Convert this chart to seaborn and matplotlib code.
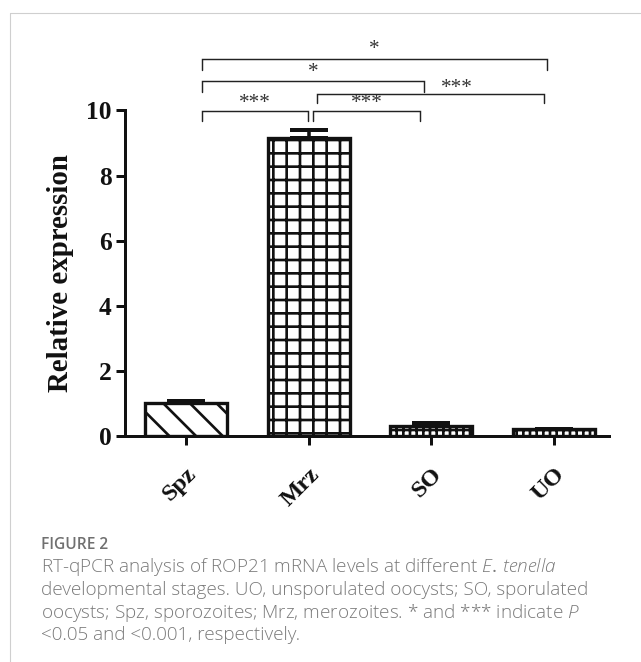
import numpy as np
import pandas as pd
import matplotlib
matplotlib.use("Agg")
import matplotlib.pyplot as plt
from matplotlib.lines import Line2D
from matplotlib.transforms import ScaledTranslation
import seaborn as sns

# ---------------- data ----------------
stages = ["Spz", "Mrz", "SO", "UO"]
expression = [1.0, 9.15, 0.32, 0.20]
sem_upper = [0.08, 0.26, 0.07, 0.02]
yticks = [0, 2, 4, 6, 8, 10]
comparisons = [("Spz", "Mrz", "***"), ("Mrz", "SO", "***"), ("Mrz", "UO", "***"),
               ("Spz", "SO", "*"), ("Spz", "UO", "*")]
ylabel = "Relative expression"
caption_title = "FIGURE 2"
caption_lines = [
    r"RT-qPCR analysis of ROP21 mRNA levels at different $\mathit{E.\,tenella}$",
    "developmental stages. UO, unsporulated oocysts; SO, sporulated",
    r"oocysts; Spz, sporozoites; Mrz, merozoites. * and *** indicate $\mathit{P}$",
    "<0.05 and <0.001, respectively.",
]

# ---------------- style ----------------
sns.set_theme(style="ticks")
plt.rcParams["font.family"] = ["Liberation Serif", "DejaVu Serif"]
plt.rcParams["hatch.linewidth"] = 2.4
plt.rcParams["hatch.color"] = "#111111"
plt.rcParams["mathtext.fontset"] = "custom"
plt.rcParams["mathtext.rm"] = "Open Sans"
plt.rcParams["mathtext.it"] = "Open Sans:italic:light"

DPI = 80
W, H = 641, 662
fig = plt.figure(figsize=(W / DPI, H / DPI), dpi=DPI)
fig.patch.set_facecolor("white")

ax_left, ax_right, ax_bottom, ax_top = 125, 609, 436, 110.5
ax = fig.add_axes([ax_left / W, 1 - ax_bottom / H, (ax_right - ax_left) / W, (ax_bottom - ax_top) / H])
ax.set_facecolor("white")

df = pd.DataFrame({"stage": stages, "expr": expression})
sns.barplot(data=df, x="stage", y="expr", order=stages, color="white", width=0.67,
            edgecolor="#111111", linewidth=3.0, errorbar=None, ax=ax, zorder=2)
hatches = ["\\", "+", "++", "++"]
for patch, h in zip(ax.patches, hatches):
    patch.set_hatch(h)
    patch.set_facecolor("white")

xpos = np.arange(len(stages))
ax.errorbar(xpos, expression, yerr=[np.zeros(len(stages)), sem_upper], fmt="none",
            ecolor="#111111", elinewidth=3.2, capsize=17, capthick=3.6, zorder=3)

ax.set_xlim(-0.5, 3.45)
ax.set_ylim(0, 10)
ax.set_yticks(yticks)
ax.set_yticklabels([str(t) for t in yticks], fontsize=23, fontweight="bold")
ax.set_xticks(xpos)
ax.set_xticklabels(stages, fontsize=22, fontweight="bold", rotation=45,
                   ha="right", va="top", rotation_mode="anchor")
for lab in ax.get_xticklabels():
    lab.set_transform(lab.get_transform() + ScaledTranslation(10 / DPI, 0, fig.dpi_scale_trans))
sns.despine(ax=ax)
for s in ["left", "bottom"]:
    ax.spines[s].set_linewidth(2.7)
    ax.spines[s].set_color("#111111")
ax.tick_params(axis="y", width=2.7, length=8, pad=4, colors="#111111")
ax.tick_params(axis="x", width=2.7, length=8, pad=17, colors="#111111")
ax.set_xlabel("")
ax.set_ylabel(ylabel, fontsize=26, fontweight="bold", color="#111111")
ax.yaxis.set_label_coords(-0.105, 0.5)

# ---------------- significance brackets ----------------
# layout: (bracket y, leg bottom y, left offset, right offset, text x offset, text y)
bracket_layout = [
    (9.98, 9.68, 0.13, -0.006, 0.0, 10.23),
    (9.98, 9.68, 0.035, -0.09, 0.0, 10.23),
    (10.50, 10.23, 0.065, -0.08, 0.22, 10.69),
    (10.92, 10.57, 0.13, -0.06, 0.0, 11.18),
    (11.57, 11.24, 0.13, -0.06, 0.0, 11.86),
]
idx = {s: i for i, s in enumerate(stages)}
for (a, b, lab), (yb, yl, lo, ro, tx, ty) in zip(comparisons, bracket_layout):
    x0 = idx[a] + lo
    x1 = idx[b] + ro
    ax.plot([x0, x0, x1, x1], [yl, yb, yb, yl], color="#222222", lw=1.3,
            clip_on=False, solid_joinstyle="miter", zorder=4)
    ax.text((x0 + x1) / 2 + tx, ty, lab, ha="center", va="center", fontsize=19,
            color="#333333", clip_on=False)

# ---------------- caption & frame ----------------
fig.add_artist(Line2D([10 / W, 1], [1 - 13 / H, 1 - 13 / H], color="#cfcfcf", lw=1.0))
fig.add_artist(Line2D([10 / W, 10 / W], [1 - 13 / H, 0], color="#cfcfcf", lw=1.0))

cap_x = 41 / W
fig.text(cap_x, 1 - 549 / H, caption_title, fontsize=14, color="#707070",
         family=["Open Sans", "DejaVu Sans"], fontweight="semibold", va="baseline")
for i, line in enumerate(caption_lines):
    fig.text(cap_x, 1 - (572 + 22.8 * i) / H, line, fontsize=17, color="#7a7a7a",
             family=["Open Sans", "DejaVu Sans"], fontweight="light", va="baseline")

fig.savefig("out.png", dpi=DPI, facecolor="white")
